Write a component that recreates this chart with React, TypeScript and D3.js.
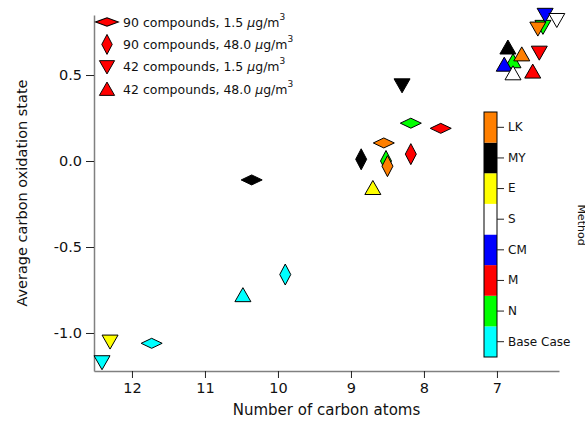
import { useEffect, useRef } from "react";
import * as d3 from "d3";

// methods, bottom of the colour bar first
const methods = ["Base Case", "N", "M", "CM", "S", "E", "MY", "LK"];
const methodColors = [
  "#00FFFF",
  "#00FF00",
  "#FF0000",
  "#0000FF",
  "#FFFFFF",
  "#FFFF00",
  "#000000",
  "#FF7F00",
];

const xTicks = [12, 11, 10, 9, 8, 7];
const yTicks = [-1.0, -0.5, 0.0, 0.5];

// 90 compounds, 1.5 ug/m3 (horizontal diamond)
const hDiamondMethods = ["Base Case", "MY", "LK", "N", "M"];
const hDiamondCarbon = [11.73, 10.36, 8.55, 8.18, 7.77];
const hDiamondOx = [-1.06, -0.11, 0.105, 0.22, 0.19];

// 90 compounds, 48.0 ug/m3 (vertical diamond)
const vDiamondMethods = ["Base Case", "N", "M", "MY", "LK"];
const vDiamondCarbon = [9.9, 8.52, 8.18, 8.86, 8.5];
const vDiamondOx = [-0.66, 0.0, 0.04, 0.01, -0.03];

// 42 compounds, 1.5 ug/m3 (down triangle)
const downMethods = ["Base Case", "N", "M", "CM", "S", "E", "MY", "LK"];
const downCarbon = [12.41, 6.37, 6.42, 6.34, 6.18, 12.3, 8.3, 6.44];
const downOx = [-1.17, 0.78, 0.63, 0.85, 0.82, -1.05, 0.44, 0.77];

// 42 compounds, 48.0 ug/m3 (up triangle)
const upMethods = ["Base Case", "N", "M", "CM", "S", "E", "MY", "LK"];
const upCarbon = [10.48, 6.78, 6.51, 6.9, 6.78, 8.7, 6.85, 6.66];
const upOx = [-0.78, 0.58, 0.52, 0.56, 0.51, -0.157, 0.66, 0.62];

const legendLabels = [
  ["90 compounds, 1.5 ", "hdiamond"],
  ["90 compounds, 48.0 ", "vdiamond"],
  ["42 compounds, 1.5 ", "down"],
  ["42 compounds, 48.0 ", "up"],
];

const shapes: Record<string, string> = {
  hdiamond: "M-10.5,0L0,-5L10.5,0L0,5Z",
  vdiamond: "M0,-10.5L5.5,0L0,10.5L-5.5,0Z",
  down: "M-8,-6.5L8,-6.5L0,7.5Z",
  up: "M0,-7.5L8,6.5L-8,6.5Z",
};

const font = "'DejaVu Sans', Verdana, sans-serif";

function App() {
  const svgRef = useRef<SVGSVGElement>(null);

  useEffect(() => {
    const Width = 585;
    const Height = 421;
    const svg = d3.select(svgRef.current);
    svg.selectAll("*").remove();

    const xScale = d3.scaleLinear().domain([12.52, 6.15]).range([94, 559]);
    const yScale = d3.scaleLinear().domain([-1.221, 0.849]).range([371, 15]);
    const colorOf = (m: string) => methodColors[methods.indexOf(m)];

    // axes
    const xAxis = d3
      .axisBottom(xScale)
      .tickValues(xTicks)
      .tickFormat((d) => String(d))
      .tickSize(7)
      .tickSizeOuter(0)
      .tickPadding(5);
    const xg = svg
      .append("g")
      .attr("transform", "translate(0,371)")
      .call(xAxis);

    const yAxis = d3
      .axisLeft(yScale)
      .tickValues(yTicks)
      .tickFormat((d) => (d as number).toFixed(1))
      .tickSize(8)
      .tickSizeOuter(0)
      .tickPadding(4);
    const yg = svg
      .append("g")
      .attr("transform", "translate(94,0)")
      .call(yAxis);

    [xg, yg].forEach((g) => {
      g.select(".domain").attr("stroke", "#808080").attr("stroke-width", 1.5);
      g.selectAll(".tick line").attr("stroke", "#222");
      g.selectAll(".tick text")
        .attr("fill", "#111")
        .style("font-family", font)
        .style("font-size", "14.5px");
    });

    // axis labels
    svg
      .append("text")
      .attr("x", (94 + 559) / 2)
      .attr("y", 415)
      .attr("text-anchor", "middle")
      .style("font-family", font)
      .style("font-size", "15px")
      .attr("fill", "#111")
      .text("Number of carbon atoms");

    svg
      .append("text")
      .attr("transform", "translate(27," + (15 + 371) / 2 + ") rotate(-90)")
      .attr("text-anchor", "middle")
      .style("font-family", font)
      .style("font-size", "14.5px")
      .attr("fill", "#111")
      .text("Average carbon oxidation state");

    // markers
    const series = [
      { shape: "hdiamond", m: hDiamondMethods, x: hDiamondCarbon, y: hDiamondOx },
      { shape: "vdiamond", m: vDiamondMethods, x: vDiamondCarbon, y: vDiamondOx },
      { shape: "down", m: downMethods, x: downCarbon, y: downOx },
      { shape: "up", m: upMethods, x: upCarbon, y: upOx },
    ];

    series.forEach((s) => {
      const pts = s.m.map((m, i) => ({ m, x: s.x[i], y: s.y[i] }));
      svg
        .append("g")
        .selectAll("path")
        .data(pts)
        .join("path")
        .attr("d", shapes[s.shape])
        .attr("transform", (d) => "translate(" + xScale(d.x) + "," + yScale(d.y) + ")")
        .attr("fill", (d) => colorOf(d.m))
        .attr("stroke", "#000")
        .attr("stroke-width", 1);
    });

    // legend
    const legend = svg.append("g");
    legendLabels.forEach(([label, shape], i) => {
      const cy = 22 + i * 22.4;
      legend
        .append("path")
        .attr("d", shapes[shape])
        .attr("transform", "translate(107," + cy + ") scale(" + (shape === "hdiamond" ? "1.1,0.85" : "0.95") + ")")
        .attr("fill", "#FF0000")
        .attr("stroke", "#000");
      const t = legend
        .append("text")
        .attr("x", 123)
        .attr("y", cy + 4.5)
        .style("font-family", font)
        .style("font-size", "12.5px")
        .attr("fill", "#111");
      t.append("tspan").text(label);
      t.append("tspan").style("font-style", "italic").text("\u03bc");
      t.append("tspan").text("g/m");
      t.append("tspan").attr("dy", -7).style("font-size", "9px").text("3");
    });

    // colour bar
    const cbar = d3
      .scaleBand()
      .domain([...methods].reverse())
      .range([112, 357]);
    const cb = svg.append("g");
    cb.selectAll("rect")
      .data(methods)
      .join("rect")
      .attr("x", 484)
      .attr("width", 13)
      .attr("y", (d) => cbar(d) as number)
      .attr("height", cbar.bandwidth())
      .attr("fill", (d) => colorOf(d));
    cb.append("rect")
      .attr("x", 484)
      .attr("y", 112)
      .attr("width", 13)
      .attr("height", 245)
      .attr("fill", "none")
      .attr("stroke", "#000");
    const cbAxis = d3.axisRight(cbar).tickSize(7).tickSizeOuter(0).tickPadding(4);
    const cbg = cb.append("g").attr("transform", "translate(497,0)").call(cbAxis);
    cbg.select(".domain").remove();
    cbg.selectAll(".tick line").attr("stroke", "#222");
    cbg.selectAll(".tick text")
      .attr("fill", "#111")
      .style("font-family", font)
      .style("font-size", "12px");

    // axis title of the colour bar, cut by the right edge as in the source
    svg
      .append("text")
      .attr("transform", "translate(578,225) rotate(90)")
      .attr("text-anchor", "middle")
      .style("font-family", font)
      .style("font-size", "11px")
      .attr("fill", "#111")
      .text("Method");

    svg.attr("width", Width).attr("height", Height);
  }, []);

  return (
    <svg
      ref={svgRef}
      width={585}
      height={421}
      style={{ position: "absolute", left: 0, top: 0, background: "#fff" }}
    ></svg>
  );
}

export default App;
